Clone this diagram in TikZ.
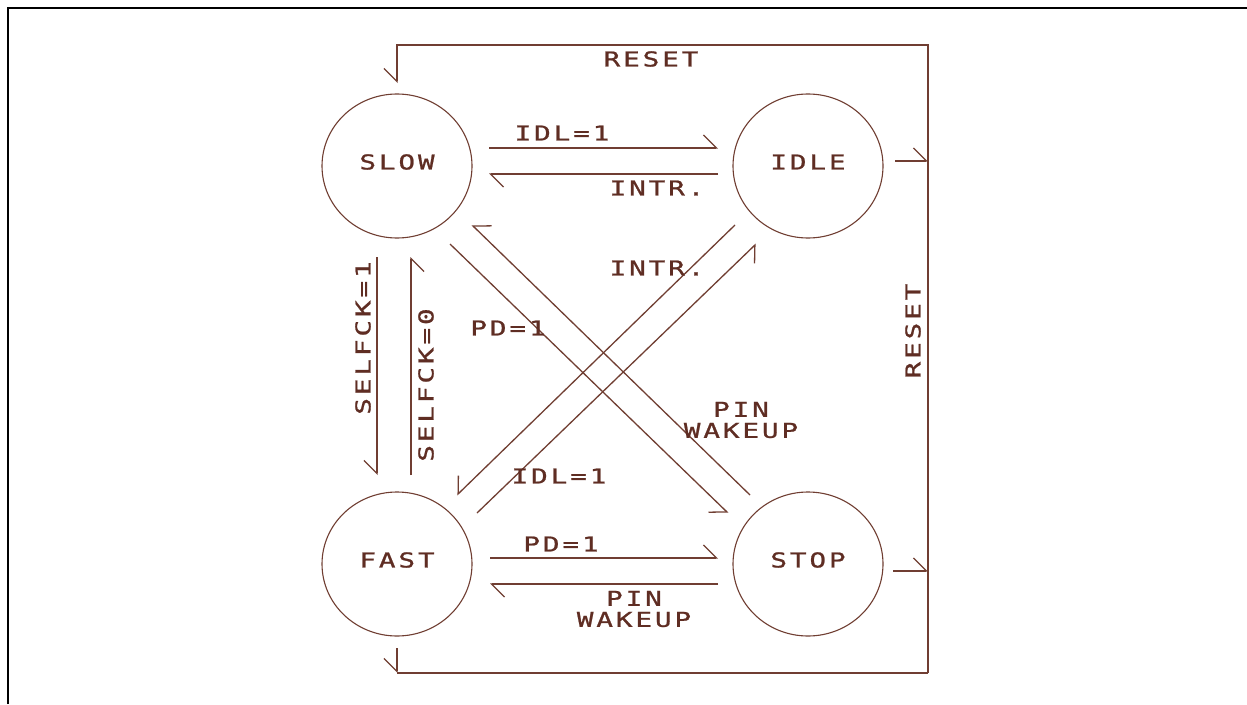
\documentclass[tikz,border=0pt]{standalone}
\usepackage{fontspec}
\newfontfamily\plotfont[FakeStretch=1.35,LetterSpace=14,FakeBold=1]{DejaVu Sans Mono}
\usetikzlibrary{arrows.meta,shapes.geometric}
\definecolor{lnc}{RGB}{112,62,50}
\definecolor{txc}{RGB}{95,45,35}
\tikzset{
  ln/.style={draw=lnc, line width=1.3pt},
  tipl/.style={-{Straight Barb[harpoon,length=13pt,width=26pt,line width=1.3pt]}},
  tipr/.style={-{Straight Barb[harpoon,swap,length=13pt,width=26pt,line width=1.3pt]}},
  txt/.style={font=\plotfont\fontsize{20.5}{21}\selectfont},
  state/.style={ellipse, draw=lnc, line width=1.1pt, minimum width=150pt, minimum height=144pt, inner sep=0pt},
  lab/.style={txt, text=txc, inner sep=0pt, align=center},
}
\begin{document}
\begin{tikzpicture}[x=1pt,y=-1pt]
\useasboundingbox (0,0) rectangle (1247,704);
\fill[white] (0,0) rectangle (1247,704);
\draw[black, line width=2.4pt] (8,704) -- (8,8) -- (1247,8);
% states
\node[state, label={[lab,yshift=4pt]center:SLOW}] (slow) at (397,166) {};
\node[state, label={[lab,yshift=4pt]center:IDLE}] (idle) at (808,166) {};
\node[state, label={[lab,yshift=4pt]center:FAST}] (fast) at (397,564) {};
\node[state, label={[lab,yshift=4pt]center:STOP}] (stop) at (808,564) {};
% reset frame corners
\coordinate (tr) at (928,45);
\coordinate (tl) at (397,45);
\coordinate (br) at (928,673);
\coordinate (bl) at (397,673);
\draw[ln,tipr] (br) -- (tr) -- (tl) -- ([shift={(0,-83)}]slow.center);
\draw[ln] (br) -- (bl);
\draw[ln,tipr] ([shift={(0,84)}]fast.center) -- (bl);
\coordinate (io) at ([shift={(87,-5)}]idle.center);
\coordinate (so) at ([shift={(85,7)}]stop.center);
\draw[ln,tipl] (io) -- (io -| tr);
\draw[ln,tipl] (so) -- (so -| tr);
% horizontal transitions
\draw[ln,tipl] ([shift={(92,-18)}]slow.center) -- ([shift={(-90,-18)}]idle.center);
\draw[ln,tipl] ([shift={(-90,8)}]idle.center) -- ([shift={(92,8)}]slow.center);
\draw[ln,tipl] ([shift={(93,-6)}]fast.center) -- ([shift={(-90,-6)}]stop.center);
\draw[ln,tipl] ([shift={(-90,20)}]stop.center) -- ([shift={(93,20)}]fast.center);
% vertical transitions
\draw[ln,tipr] ([shift={(-20,91)}]slow.center) -- ([shift={(-20,-89)}]fast.center);
\draw[ln,tipr] ([shift={(14,-89)}]fast.center) -- ([shift={(14,91)}]slow.center);
% diagonal transitions
\draw[ln,tipr] ([shift={(53,78)}]slow.center) -- ([shift={(-80,-51)}]stop.center);
\draw[ln,tipr] ([shift={(-58,-69)}]stop.center) -- ([shift={(75,59)}]slow.center);
\draw[ln,tipr] ([shift={(80,-51)}]fast.center) -- ([shift={(-52,78)}]idle.center);
\draw[ln,tipr] ([shift={(-73,59)}]idle.center) -- ([shift={(60,-69)}]fast.center);
% labels
\node[lab] (lreset) at (651,59) {RESET};
\node[lab] (lidl1) at (562,133) {IDL=1};
\node[lab] (lintr1) at (657,188) {INTR.};
\node[lab] (lintr2) at (657,268) {INTR.};
\node[lab] (lpd1) at (508,328) {PD=1};
\node[lab,rotate=90] (lsel1) at (363,338) {SELFCK=1};
\node[lab,rotate=90] (lsel0) at (426,385) {SELFCK=0};
\node[lab] (lpin1) at (741,420) {PIN\\WAKEUP};
\node[lab] (lidl2) at (559,476) {IDL=1};
\node[lab] (lpd2) at (561,544) {PD=1};
\node[lab] (lpin2) at (634,609) {PIN\\WAKEUP};
\node[lab,rotate=90] (lreset2) at (913,331) {RESET};
\end{tikzpicture}
\end{document}
